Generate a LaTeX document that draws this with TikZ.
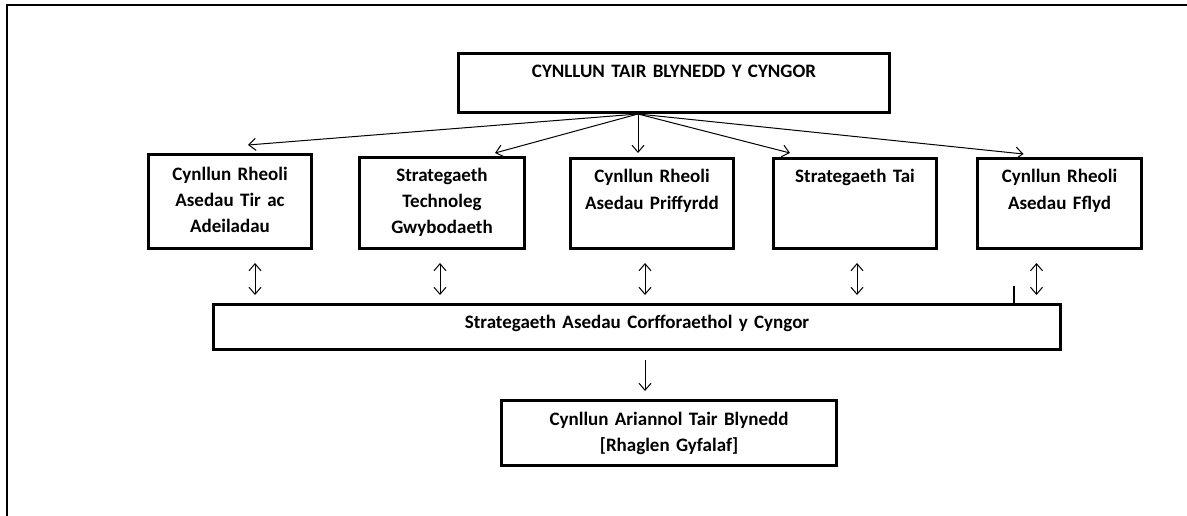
\documentclass[tikz,border=0pt]{standalone}
\usepackage{fontspec}
\setmainfont{Carlito}
\usetikzlibrary{arrows.meta}

\begin{document}
\begin{tikzpicture}[x=1pt,y=-1pt,
	box/.style={draw, line width=3pt, inner sep=0pt},
	txt/.style={anchor=base, align=center, text width=#1, inner sep=0pt,
		font=\bfseries\fontsize{19pt}{26pt}\selectfont},
	arr/.style={-{Straight Barb[length=7pt,width=12pt]}, line width=1pt},
	dbl/.style={{Straight Barb[length=7pt,width=12pt]}-{Straight Barb[length=7pt,width=12pt]}, line width=1pt}]
\useasboundingbox (0,0) rectangle (1187,516);
% frame
\draw[line width=2.2pt] (1187,5) -- (7,5) -- (7,516);
% boxes
\node[box, minimum width=431pt, minimum height=59pt] (plan) at (674,83) {};
\node[box, minimum width=163pt, minimum height=94pt] (b1) at (230,201.5) {};
\node[box, minimum width=165pt, minimum height=91pt] (b2) at (442,203) {};
\node[box, minimum width=163pt, minimum height=90pt] (b3) at (652,203.5) {};
\node[box, minimum width=163pt, minimum height=90pt] (b4) at (855,203.5) {};
\node[box, minimum width=164pt, minimum height=90pt] (b5) at (1059.5,203.5) {};
\node[box, minimum width=847pt, minimum height=45pt] (wide) at (637,327) {};
\node[box, minimum width=335pt, minimum height=65pt] (bot) at (669,433) {};
% texts
\node[txt=400pt] (tplan) at ([yshift=-26pt]plan.north) {CYNLLUN TAIR BLYNEDD Y CYNGOR};
\node[txt=160pt] (t1) at ([yshift=-28pt]b1.north) {Cynllun Rheoli\\Asedau Tir ac\\Adeiladau};
\node[txt=160pt] (t2) at ([yshift=-26pt]b2.north) {Strategaeth\\Technoleg\\Gwybodaeth};
\node[txt=160pt] (t3) at ([yshift=-26pt]b3.north) {Cynllun Rheoli\\Asedau Priffyrdd};
\node[txt=160pt] (t4) at ([yshift=-26pt]b4.north) {Strategaeth Tai};
\node[txt=160pt] (t5) at ([yshift=-26pt]b5.north) {Cynllun Rheoli\\Asedau Fflyd};
\node[txt=800pt] (twide) at ([yshift=-25pt]wide.north) {Strategaeth Asedau Corfforaethol y Cyngor};
\node[txt=320pt] (tbot) at ([yshift=-26pt]bot.north) {Cynllun Ariannol Tair Blynedd\\{[Rhaglen Gyfalaf]}};
% connectors
\coordinate (hub) at ([xshift=-36pt]plan.south);
\draw[arr] (hub) -- ([xshift=18pt,yshift=8pt]b1.north);
\draw[arr] (hub) -- ([xshift=53pt,yshift=3pt]b2.north);
\draw[arr] (hub) -- ([xshift=-14pt,yshift=4pt]b3.north);
\draw[arr] (hub) -- ([xshift=-65pt,yshift=4pt]b4.north);
\draw[arr] (hub) -- ([xshift=-36pt,yshift=3pt]b5.north);
\foreach \b/\dx in {b1/25, b2/-2, b3/-7, b4/2, b5/-23}
	\draw[dbl] ([xshift=\dx pt,yshift=-13pt]\b.south) -- ++(0,32);
\draw[arr] ([xshift=8pt,yshift=-9pt]wide.south) -- ([xshift=-24pt,yshift=8pt]bot.north);
\draw[line width=1.2pt] (1014,286) -- (1014,306);
\end{tikzpicture}
\end{document}
